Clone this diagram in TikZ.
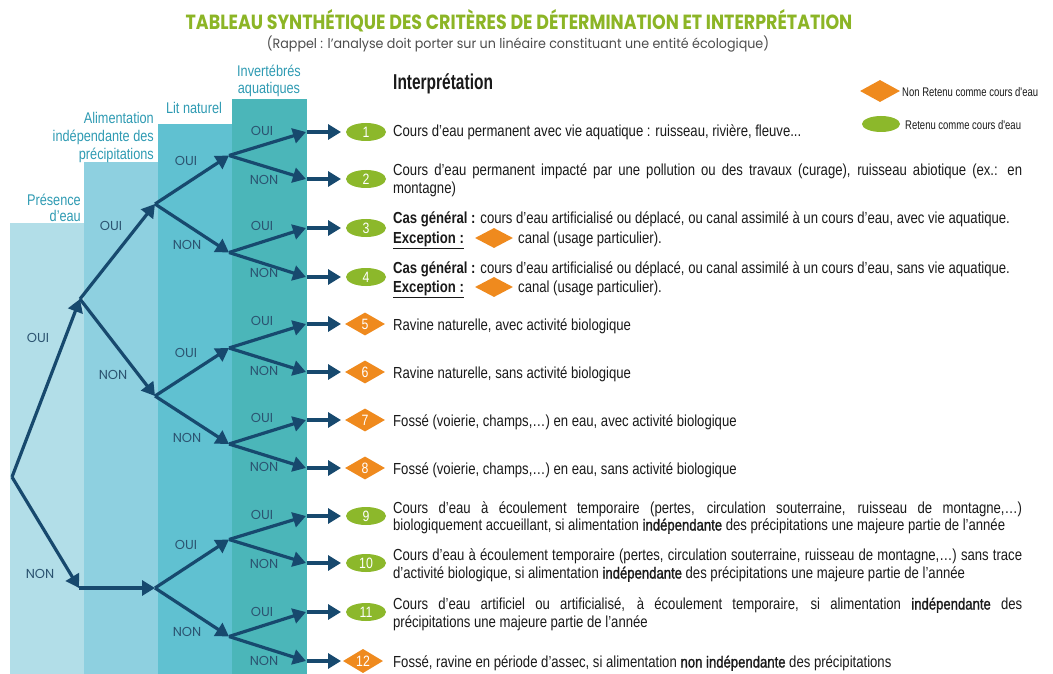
\documentclass[tikz,border=0pt]{standalone}
\usepackage{fontspec}
\setmainfont[FakeStretch=0.82]{Liberation Sans}
\newfontfamily\titlefont[FakeStretch=0.85]{Poppins}
\newfontfamily\subfont[FakeStretch=0.94]{Poppins}
\newfontfamily\lblfont{Poppins}
\newfontfamily\legfont[FakeStretch=0.76]{Liberation Sans}
\newfontfamily\intfont[FakeStretch=0.72]{Liberation Sans}
\newfontfamily\semibfont[FakeStretch=0.82,FakeBold=1.3]{Liberation Sans}
\newcommand{\sbf}[1]{{\semibfont #1}}
\usetikzlibrary{arrows.meta,shapes.geometric}
\definecolor{colA}{HTML}{B2DEE8}
\definecolor{colB}{HTML}{8ED0E0}
\definecolor{colC}{HTML}{60C1D1}
\definecolor{colD}{HTML}{4BB6B9}
\definecolor{navy}{HTML}{17496E}
\definecolor{mgreen}{HTML}{8CB82B}
\definecolor{morange}{HTML}{EF8A1E}
\definecolor{titlegreen}{HTML}{8CB526}
\definecolor{hdrc}{HTML}{2F9BB3}
\definecolor{lblc}{HTML}{2B5370}
\definecolor{subgrey}{HTML}{4D4D4D}
\definecolor{txtc}{HTML}{1A1A1A}
\tikzset{
  arr/.style={draw=navy, line width=3.2pt, -{Triangle[length=13pt,width=15pt]}},
  lbl/.style={font=\lblfont\fontsize{13}{13}\selectfont, text=lblc, inner sep=0pt},
  hdr/.style={font=\fontsize{15.5}{18}\selectfont, text=hdrc, inner sep=0pt},
  gm/.style={ellipse, fill=mgreen, minimum width=40pt, minimum height=18pt, inner sep=0pt, text=white, font=\fontsize{15}{15}\selectfont},
  om/.style={diamond, fill=morange, minimum width=40pt, minimum height=23pt, inner sep=0pt, text=white, font=\fontsize{15}{15}\selectfont},
  txt/.style={anchor=base west, inner sep=0pt, text=txtc, font=\fontsize{16}{18}\selectfont},
  leg/.style={anchor=west, inner sep=0pt, text=txtc, font=\legfont\fontsize{12.5}{14}\selectfont},
}
\newcommand{\jl}[1]{\makebox[629pt][s]{#1}}
\begin{document}
\begin{tikzpicture}[x=1pt,y=-1pt]
\useasboundingbox (0,0) rectangle (1053,674);
\fill[white] (0,0) rectangle (1053,674);
% columns
\fill[colA] (10,223) rectangle (84,674);
\fill[colB] (84,162) rectangle (158,674);
\fill[colC] (158,124) rectangle (232,674);
\fill[colD] (232,99) rectangle (307,674);
% title
\node[inner sep=0pt, text=titlegreen, font=\titlefont\bfseries\fontsize{20.5}{21}\selectfont] (title) at (519,21) {TABLEAU SYNTHÉTIQUE DES CRITÈRES DE DÉTERMINATION ET INTERPRÉTATION};
\node[inner sep=0pt, text=subgrey, font=\subfont\fontsize{13.5}{14}\selectfont] (subtitle) at (518,44) {(Rappel : l’analyse doit porter sur un linéaire constituant une entité écologique)};
% headers
\node[hdr, anchor=east] (h1a) at (81,200) {Présence};
\node[hdr, anchor=east] (h1b) at (81,216) {d'eau};
\node[hdr, anchor=east] (h2a) at (154,118) {Alimentation};
\node[hdr, anchor=east] (h2b) at (154,137) {indépendante des};
\node[hdr, anchor=east] (h2c) at (154,155) {précipitations};
\node[hdr] (h3) at (194,108) {Lit naturel};
\node[hdr] (h4a) at (269,71) {Invertébrés};
\node[hdr] (h4b) at (269,89) {aquatiques};
\node[inner sep=0pt, anchor=west, text=txtc, font=\intfont\bfseries\fontsize{21.5}{22}\selectfont] (interp) at (393,84) {Interprétation};
% legend
\node[om, minimum width=40pt, minimum height=22pt] (legO) at (880,91) {};
\node[leg] (legOt) at (902,92) {Non Retenu comme cours d'eau};
\node[gm, minimum width=38pt, minimum height=16pt] (legG) at (881,124) {};
\node[leg] (legGt) at (905,125) {Retenu comme cours d'eau};
% tree nodes
\coordinate (root) at (12,477);
\coordinate (a1) at (80,299);
\coordinate (a2) at (79,588);
\coordinate (b1) at (155,204);
\coordinate (b2) at (155,396);
\coordinate (b3) at (155,588);
\coordinate (c1) at (229,155.5);
\coordinate (c2) at (229,252.5);
\coordinate (c3) at (229,348);
\coordinate (c4) at (229,444);
\coordinate (c5) at (229,539.5);
\coordinate (c6) at (229,636.5);
\foreach \i/\y in {1/132,2/179,3/228,4/277,5/324,6/372,7/420,8/468,9/516,10/563,11/612,12/661}{
  \coordinate (e\i) at (306,\y);
  \coordinate (s\i) at (307,\y);
  \coordinate (f\i) at (341,\y);
}
\draw[arr] (root) -- (a1);
\draw[arr] (root) -- (a2);
\draw[arr] (a1) -- (b1);
\draw[arr] (a1) -- (b2);
\draw[arr] (a2) -- (b3);
\draw[arr] (b1) -- (c1);
\draw[arr] (b1) -- (c2);
\draw[arr] (b2) -- (c3);
\draw[arr] (b2) -- (c4);
\draw[arr] (b3) -- (c5);
\draw[arr] (b3) -- (c6);
\draw[arr] (c1) -- (e1);
\draw[arr] (c1) -- (e2);
\draw[arr] (c2) -- (e3);
\draw[arr] (c2) -- (e4);
\draw[arr] (c3) -- (e5);
\draw[arr] (c3) -- (e6);
\draw[arr] (c4) -- (e7);
\draw[arr] (c4) -- (e8);
\draw[arr] (c5) -- (e9);
\draw[arr] (c5) -- (e10);
\draw[arr] (c6) -- (e11);
\draw[arr] (c6) -- (e12);
\foreach \i in {1,...,12}{ \draw[arr] (s\i) -- (f\i); }
% OUI / NON labels
\node[lbl] (l1) at (38,338) {OUI};
\node[lbl] (l2) at (40,574) {NON};
\node[lbl] (l3) at (111,226) {OUI};
\node[lbl] (l4) at (113,375) {NON};
\node[lbl] (l5) at (186,161) {OUI};
\node[lbl] (l6) at (187,245) {NON};
\node[lbl] (l7) at (186,353) {OUI};
\node[lbl] (l8) at (187,438) {NON};
\node[lbl] (l9) at (186,545) {OUI};
\node[lbl] (l10) at (187,632) {NON};
\foreach \i/\y in {1/131,3/226,5/321,7/418,9/515,11/612}{ \node[lbl] (o\i) at (262,\y) {OUI}; }
\foreach \i/\y in {2/180,4/273,6/371,8/467,10/564,12/661}{ \node[lbl] (n\i) at (264,\y) {NON}; }
% markers
\node[gm] (m1) at (366,132) {1};
\node[gm] (m2) at (366,179) {2};
\node[gm] (m3) at (366,228) {3};
\node[gm] (m4) at (366,277) {4};
\node[om] (m5) at (365,324) {5};
\node[om] (m6) at (365,372) {6};
\node[om] (m7) at (365,420) {7};
\node[om] (m8) at (365,468) {8};
\node[gm] (m9) at (366,516) {9};
\node[gm] (m10) at (366,563) {10};
\node[gm] (m11) at (366,612) {11};
\node[om] (m12) at (363,661) {12};
% texts
\node[txt] (t1) at (393,136.5) {Cours d'eau permanent avec vie aquatique : ruisseau, rivière, fleuve...};
\node[txt] (t2a) at (393,175.5) {\jl{Cours d'eau permanent impacté par une pollution ou des travaux (curage), ruisseau abiotique (ex.: en}};
\node[txt] (t2b) at (393,193.5) {montagne)};
\node[txt] (t3a) at (393,223.5) {\textbf{Cas général :} cours d'eau artificialisé ou déplacé, ou canal assimilé à un cours d'eau, avec vie aquatique.};
\node[txt] (t3b) at (393,243.5) {\underline{\textbf{Exception :}}};
\node[om, minimum width=38pt, minimum height=20pt] (x3) at (494,238) {};
\node[txt] (t3c) at (518,243.5) {canal (usage particulier).};
\node[txt] (t4a) at (393,273.5) {\textbf{Cas général :} cours d'eau artificialisé ou déplacé, ou canal assimilé à un cours d'eau, sans vie aquatique.};
\node[txt] (t4b) at (393,292.5) {\underline{\textbf{Exception :}}};
\node[om, minimum width=38pt, minimum height=20pt] (x4) at (494,287) {};
\node[txt] (t4c) at (518,292.5) {canal (usage particulier).};
\node[txt] (t5) at (393,330.5) {Ravine naturelle, avec activité biologique};
\node[txt] (t6) at (393,378.5) {Ravine naturelle, sans activité biologique};
\node[txt] (t7) at (393,426.5) {Fossé (voierie, champs,…) en eau, avec activité biologique};
\node[txt] (t8) at (393,474.5) {Fossé (voierie, champs,…) en eau, sans activité biologique};
\node[txt] (t9a) at (393,513.5) {\jl{Cours d'eau à écoulement temporaire (pertes, circulation souterraine, ruisseau de montagne,…)}};
\node[txt] (t9b) at (393,530.5) {biologiquement accueillant, si alimentation \sbf{indépendante} des précipitations une majeure partie de l'année};
\node[txt] (t10a) at (393,560.5) {\jl{Cours d'eau à écoulement temporaire (pertes, circulation souterraine, ruisseau de montagne,…) sans trace}};
\node[txt] (t10b) at (393,578.5) {d'activité biologique, si alimentation \sbf{indépendante} des précipitations une majeure partie de l'année};
\node[txt] (t11a) at (393,609.5) {\jl{Cours d'eau artificiel ou artificialisé, à écoulement temporaire, si alimentation \sbf{indépendante} des}};
\node[txt] (t11b) at (393,627.5) {précipitations une majeure partie de l'année};
\node[txt] (t12) at (393,667.5) {Fossé, ravine en période d'assec, si alimentation \sbf{non indépendante} des précipitations};
\end{tikzpicture}
\end{document}
